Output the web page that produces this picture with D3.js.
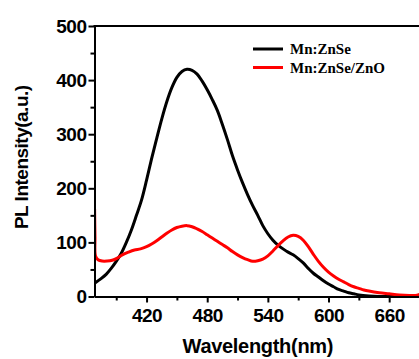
<!DOCTYPE html>
<html>
<head>
<meta charset="utf-8">
<script src="https://cdn.jsdelivr.net/npm/d3@7"></script>
<style>
  body { margin: 0; background: #fff; }
  #chart { width: 419px; height: 359px; }
</style>
</head>
<body>
<div id="chart"></div>
<script>
// data
const seriesNames = ["Mn:ZnSe", "Mn:ZnSe/ZnO"];
const seriesColors = ["#000000", "#ff0000"];

const znseWavelength = [369, 375, 380, 385, 390, 395, 400, 405, 410, 415, 420, 425, 430, 435, 440, 445, 450, 455, 460, 465, 470, 475, 480, 485, 490, 495, 500, 505, 510, 515, 520, 525, 530, 535, 540, 545, 550, 555, 560, 565, 570, 575, 580, 585, 590, 595, 600, 605, 610, 615, 620, 625, 630, 640, 650, 670, 690];
const znseIntensity = [25, 33, 41, 52, 65, 80, 100, 123, 150, 178, 215, 255, 292, 328, 360, 386, 405, 416, 420, 418, 411, 398, 382, 364, 344, 318, 290, 260, 234, 210, 188, 168, 150, 131, 116, 104, 95, 88, 82, 77, 70, 62, 52, 43, 36, 29, 23, 18, 13, 10, 7, 5, 3, 1, 0, 0, 0];

const znoWavelength = [368.6, 369, 369.5, 372, 376, 381, 386, 391, 396, 402, 408, 414, 420, 425, 430, 435, 440, 445, 450, 455, 460, 465, 470, 475, 480, 485, 490, 495, 500, 505, 510, 515, 520, 525, 530, 535, 540, 545, 550, 555, 560, 565, 570, 575, 580, 585, 590, 595, 600, 605, 610, 615, 620, 625, 630, 635, 640, 650, 660, 670, 680, 686, 690];
const znoIntensity = [162, 110, 75, 68, 65.5, 65.5, 67, 71, 77, 82, 86, 88, 92, 97, 103, 110, 117, 123, 127.5, 130, 131, 129, 125, 120, 114, 108, 102, 96, 90, 83, 77, 72, 68, 65, 66, 69, 75, 84, 94, 103, 110, 113, 111, 104, 92, 78, 65, 54, 45, 38, 32, 27, 22, 18, 15, 12, 10, 7, 5, 3, 2, 2, 4];

const xTicks = [420, 480, 540, 600, 660];
const xMinorTicks = [390, 450, 510, 570, 630, 690];
const yTicks = [0, 100, 200, 300, 400, 500];
const yMinorTicks = [50, 150, 250, 350, 450];

const width = 419;
const height = 359;
const margin = {top: 26, right: 0, bottom: 62, left: 94.5};

const svg = d3.select("#chart").append("svg")
  .attr("width", width)
  .attr("height", height);

const x = d3.scaleLinear()
  .domain([368.5, 690])
  .range([margin.left, width + 0.5]);

const y = d3.scaleLinear()
  .domain([0, 500])
  .range([height - margin.bottom - 0.5, margin.top]);

const bold = "'Liberation Sans', Arial, sans-serif";
const serif = "'Liberation Serif', 'Times New Roman', serif";

// clip for curves
svg.append("clipPath").attr("id", "plot-clip")
  .append("rect")
  .attr("x", x.range()[0])
  .attr("y", 0)
  .attr("width", x.range()[1] - x.range()[0])
  .attr("height", y.range()[0]);

const line = d3.line()
  .x(d => x(d[0]))
  .y(d => y(d[1]))
  .curve(d3.curveCatmullRom.alpha(0.5));

const series = [
  d3.zip(znseWavelength, znseIntensity),
  d3.zip(znoWavelength, znoIntensity)
];

svg.append("g")
    .attr("clip-path", "url(#plot-clip)")
  .selectAll("path")
  .data(series)
  .enter().append("path")
    .attr("d", line)
    .attr("fill", "none")
    .attr("stroke", (d, i) => seriesColors[i])
    .attr("stroke-width", 3)
    .attr("stroke-linejoin", "round");

// axes
svg.append("g")
  .attr("transform", `translate(0,${y(0)})`)
  .call(d3.axisBottom(x).tickValues(xTicks).tickSize(6).tickSizeOuter(0).tickPadding(6));

const xMinor = svg.append("g")
  .attr("transform", `translate(0,${y(0)})`)
  .call(d3.axisBottom(x).tickValues(xMinorTicks).tickSize(4).tickFormat(""));
xMinor.select(".domain").remove();

svg.append("g")
  .attr("transform", `translate(${x.range()[0]},0)`)
  .call(d3.axisLeft(y).tickValues(yTicks).tickSize(6).tickSizeOuter(0).tickPadding(2));

const yMinor = svg.append("g")
  .attr("transform", `translate(${x.range()[0]},0)`)
  .call(d3.axisLeft(y).tickValues(yMinorTicks).tickSize(4).tickFormat(""));
yMinor.select(".domain").remove();

svg.selectAll(".domain, .tick line")
  .attr("stroke", "#000")
  .attr("stroke-width", 2);

svg.selectAll(".tick text")
  .attr("fill", "#000")
  .style("font", `bold 19px ${bold}`)
  .style("letter-spacing", "-0.5px");

// top frame line
svg.append("line")
  .attr("x1", x.range()[0] - 1)
  .attr("x2", width)
  .attr("y1", y(500))
  .attr("y2", y(500))
  .attr("stroke", "#000")
  .attr("stroke-width", 2);

// axis titles
svg.append("text")
  .attr("x", (x(420) + x(660)) / 2 - 10)
  .attr("y", 353)
  .attr("text-anchor", "middle")
  .style("font", `bold 20px ${bold}`)
  .style("letter-spacing", "-0.3px")
  .text("Wavelength(nm)");

svg.append("text")
  .attr("transform", `translate(28,${(y(0) + y(500)) / 2 - 4}) rotate(-90)`)
  .attr("text-anchor", "middle")
  .style("font", `bold 19px ${bold}`)
  .style("letter-spacing", "-0.5px")
  .text("PL Intensity(a.u.)");

// legend
const legend = svg.append("g")
    .attr("transform", "translate(253,49)")
  .selectAll("g")
  .data(seriesNames)
  .enter().append("g")
    .attr("transform", (d, i) => `translate(0,${i * 18.5})`);

legend.append("line")
  .attr("x1", 0)
  .attr("x2", 30)
  .attr("stroke", (d, i) => seriesColors[i])
  .attr("stroke-width", 3);

legend.append("text")
  .attr("x", 37)
  .attr("y", 5)
  .style("font", `bold 15px ${serif}`)
  .text(d => d);
</script>
</body>
</html>
